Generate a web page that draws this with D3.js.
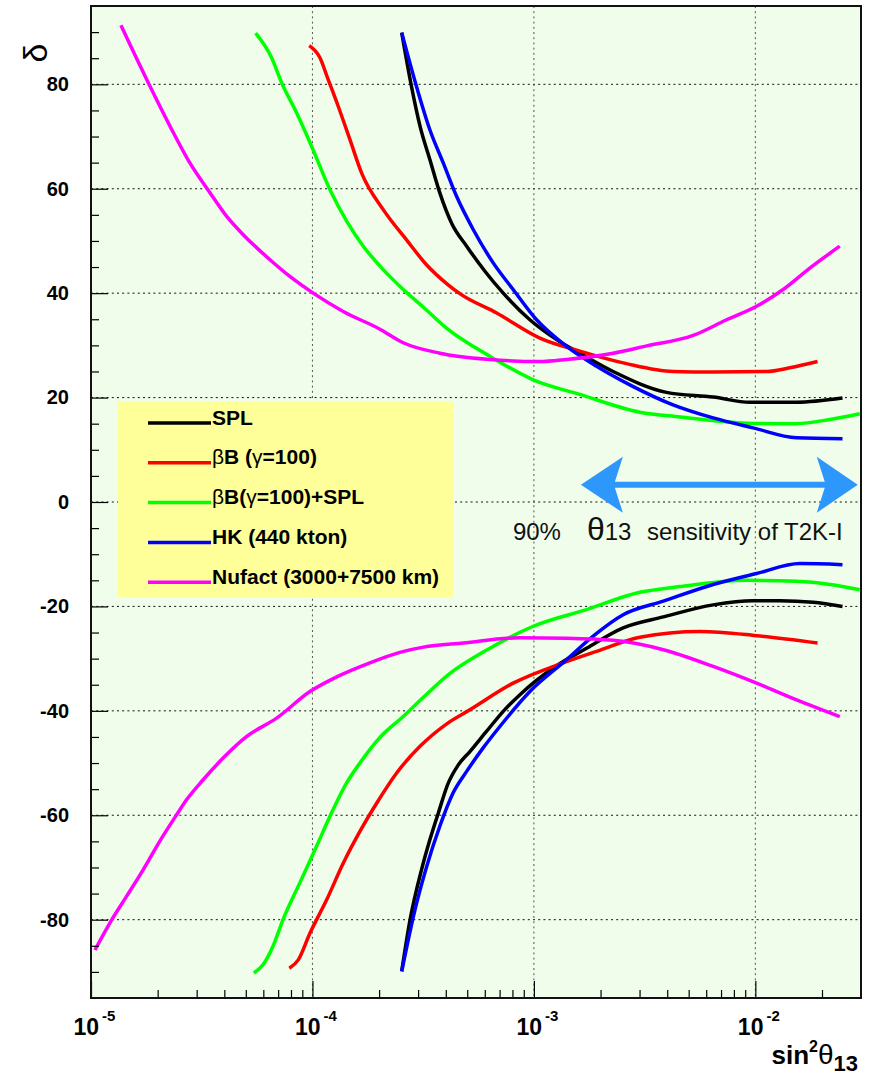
<!DOCTYPE html>
<html>
<head>
<meta charset="utf-8">
<title>delta vs sin2theta13</title>
<script src="https://cdnjs.cloudflare.com/ajax/libs/d3/7.8.5/d3.min.js"></script>
<style>
    body { margin: 0; background: #fff; }
    text { font-family: "Liberation Sans", Arial, sans-serif; }
    .curve { fill: none; stroke-width: 3.5; stroke-linejoin: round; stroke-linecap: butt; }
</style>
</head>
<body>
<svg id="chart" width="873" height="1076"></svg>
<script>
// each point: [sin^2(theta13), delta in degrees]
var splUpper = [[2.53e-4, 89.9], [2.80e-4, 79.6], [3.06e-4, 72.0], [3.39e-4, 65.6], [3.76e-4, 59.2],
    [4.25e-4, 53.4], [4.97e-4, 49.0], [6.01e-4, 44.2], [7.27e-4, 40.0], [9.59e-4, 34.9],
    [1.266e-3, 31.1], [1.613e-3, 28.5], [2.28e-3, 25.0], [3.97e-3, 21.0], [6.45e-3, 20.1],
    [9.45e-3, 19.1], [1.535e-2, 19.1], [2.475e-2, 19.9]];
var splLower = [[2.53e-4, -89.9], [2.76e-4, -80.0], [3.11e-4, -70.4], [3.39e-4, -64.7], [3.70e-4, -59.6],
    [4.10e-4, -53.9], [4.55e-4, -50.4], [5.14e-4, -47.8], [6.12e-4, -43.9], [7.27e-4, -40.1],
    [8.65e-4, -36.9], [1.222e-3, -31.8], [1.729e-3, -28.0], [2.53e-3, -24.1], [3.84e-3, -22.0],
    [6.45e-3, -19.7], [9.77e-3, -18.9], [1.29e-2, -18.9], [1.823e-2, -19.2], [2.475e-2, -20.0]];

var bbUpper = [[9.67e-5, 87.4], [1.081e-4, 85.1], [1.178e-4, 80.9], [1.307e-4, 75.8], [1.477e-4, 69.4],
    [1.668e-4, 63.0], [2.088e-4, 56.0], [2.66e-4, 50.2], [3.28e-4, 45.4], [4.10e-4, 41.6],
    [4.63e-4, 39.9], [6.79e-4, 36.2], [1.064e-3, 31.4], [1.613e-3, 28.9], [2.62e-3, 26.5],
    [4.25e-3, 25.0], [6.45e-3, 24.9], [1.124e-2, 25.0], [1.431e-2, 25.7], [1.909e-2, 26.9]];
var bbLower = [[7.86e-5, -89.3], [8.63e-5, -87.7], [9.74e-5, -82.6], [1.159e-4, -76.2], [1.377e-4, -69.2],
    [1.638e-4, -63.1], [1.949e-4, -57.7], [2.40e-4, -51.9], [3.06e-4, -46.8], [4.10e-4, -42.3],
    [5.14e-4, -39.8], [8.06e-4, -34.7], [1.356e-3, -30.8], [1.919e-3, -28.6], [3.01e-3, -25.9],
    [5.62e-3, -24.8], [1.013e-2, -25.6], [1.909e-2, -27.0]];

var bbSplUpper = [[5.54e-5, 89.8], [6.54e-5, 85.1], [7.26e-5, 80.3], [8.49e-5, 74.5], [9.92e-5, 68.1],
    [1.20e-4, 59.8], [1.427e-4, 53.8], [1.696e-4, 49.0], [2.088e-4, 44.5], [2.57e-4, 40.7],
    [3.17e-4, 37.3], [4.03e-4, 33.3], [6.33e-4, 27.9], [9.93e-4, 23.4], [1.613e-3, 20.6],
    [3.01e-3, 17.2], [4.56e-3, 16.3], [9.13e-3, 15.1], [1.535e-2, 15.0], [2.17e-2, 15.8], [2.96e-2, 16.9]];
var bbSplLower = [[5.44e-5, -90.2], [5.99e-5, -88.6], [6.65e-5, -85.0], [7.38e-5, -79.9], [8.78e-5, -72.9],
    [1.045e-4, -65.9], [1.20e-4, -60.2], [1.427e-4, -53.8], [1.638e-4, -50.0], [2.017e-4, -45.1],
    [2.57e-4, -41.1], [3.17e-4, -37.4], [4.10e-4, -33.1], [6.33e-4, -28.0], [9.93e-4, -23.8],
    [1.729e-3, -20.6], [3.01e-3, -17.3], [4.56e-3, -16.2], [9.13e-3, -15.0], [1.535e-2, -15.2],
    [2.17e-2, -15.8], [2.96e-2, -16.8]];

var hkUpper = [[2.53e-4, 89.9], [2.95e-4, 79.6], [3.39e-4, 71.3], [3.90e-4, 64.9], [4.48e-4, 58.5],
    [5.32e-4, 52.2], [6.55e-4, 45.8], [8.06e-4, 40.7], [1.028e-3, 34.9], [1.405e-3, 29.8],
    [1.919e-3, 26.0], [2.81e-3, 22.1], [4.25e-3, 18.6], [6.45e-3, 16.1], [9.77e-3, 14.2],
    [1.535e-2, 12.3], [2.475e-2, 12.1]];
var hkLower = [[2.53e-4, -89.9], [2.90e-4, -78.2], [3.28e-4, -69.8], [3.76e-4, -62.1], [4.32e-4, -55.7],
    [4.97e-4, -51.6], [5.90e-4, -47.1], [7.02e-4, -43.0], [9.59e-4, -36.3], [1.405e-3, -30.2],
    [1.852e-3, -25.7], [2.53e-3, -21.6], [3.84e-3, -19.0], [6.45e-3, -15.8], [1.013e-2, -13.7],
    [1.589e-2, -11.8], [2.475e-2, -12.0]];

var nufactUpper = [[1.365e-5, 91.3], [1.814e-5, 80.3], [2.273e-5, 72.0], [2.80e-5, 64.9], [3.45e-5, 59.2],
    [4.10e-5, 54.7], [4.87e-5, 51.2], [6.43e-5, 46.4], [7.91e-5, 43.2], [1.008e-4, 40.0],
    [1.377e-4, 36.5], [2.017e-4, 33.1], [2.57e-4, 30.5], [3.76e-4, 28.5], [6.33e-4, 27.3],
    [1.064e-3, 26.9], [1.405e-3, 27.3], [2.28e-3, 28.5], [3.23e-3, 29.9], [5.24e-3, 31.9],
    [7.41e-3, 34.9], [1.013e-2, 37.5], [1.335e-2, 40.7], [1.762e-2, 44.8], [2.406e-2, 49.0]];
var nufactLower = [[1.042e-5, -85.8], [1.218e-5, -80.6], [1.449e-5, -75.5], [1.722e-5, -70.4], [2.049e-5, -64.9],
    [2.437e-5, -59.9], [2.705e-5, -57.0], [3.21e-5, -53.2], [3.96e-5, -49.0], [5.05e-5, -44.9],
    [6.89e-5, -41.4], [9.74e-5, -36.3], [1.286e-4, -33.5], [1.818e-4, -30.8], [2.48e-4, -28.8],
    [3.17e-4, -27.8], [4.80e-4, -27.0], [8.65e-4, -26.0], [1.405e-3, -26.1], [2.28e-3, -26.5],
    [3.84e-3, -28.3], [6.45e-3, -31.5], [1.013e-2, -34.7], [1.535e-2, -37.9], [2.406e-2, -41.1]];

var legendLabels = ["SPL", "βB (γ=100)", "βB(γ=100)+SPL", "HK (440 kton)", "Nufact (3000+7500 km)"];
var colors = ["#000000", "#ff0000", "#00ff00", "#0000ff", "#ff00ff"];
var branches = [[splUpper, splLower], [bbUpper, bbLower], [bbSplUpper, bbSplLower], [hkUpper, hkLower], [nufactUpper, nufactLower]];

var yMajor = [-80, -60, -40, -20, 0, 20, 40, 60, 80];
var yMinor = d3.range(-90, 95, 5).filter(function(d) { return d % 20 !== 0; });
var xMajor = [1e-5, 1e-4, 1e-3, 1e-2];
var xExponents = ["-5", "-4", "-3", "-2"];
var xMinor = [2e-5, 3e-5, 4e-5, 5e-5, 6e-5, 7e-5, 8e-5, 9e-5,
    2e-4, 3e-4, 4e-4, 5e-4, 6e-4, 7e-4, 8e-4, 9e-4,
    2e-3, 3e-3, 4e-3, 5e-3, 6e-3, 7e-3, 8e-3, 9e-3, 2e-2];

// T2K-I sensitivity arrow
var arrowFrom = 1.63e-3, arrowTo = 2.9e-2, arrowDelta = 3.3;

var svg = d3.select("#chart");
var plotL = 91, plotR = 861, plotT = 6, plotB = 998;

var x = d3.scaleLog().domain([1e-5, 3e-2]).range([plotL, plotR]);
var y = d3.scaleLinear().domain([-95, 95]).range([plotB, plotT]);

svg.append("rect")
    .attr("x", plotL).attr("y", plotT)
    .attr("width", plotR - plotL).attr("height", plotB - plotT)
    .attr("fill", "#f0fdea");

// grid
svg.append("g").selectAll("line")
    .data(yMajor)
    .enter().append("line")
    .attr("x1", plotL).attr("x2", plotR)
    .attr("y1", function(d) { return y(d); })
    .attr("y2", function(d) { return y(d); })
    .attr("stroke", "#111").attr("stroke-width", 1)
    .attr("stroke-dasharray", "2,3.2");

svg.append("g").selectAll("line")
    .data(xMajor.slice(1))
    .enter().append("line")
    .attr("y1", plotT).attr("y2", plotB)
    .attr("x1", function(d) { return x(d); })
    .attr("x2", function(d) { return x(d); })
    .attr("stroke", "#555").attr("stroke-width", 1)
    .attr("stroke-dasharray", "2,3.2");

// legend box (sits over the grid)
var legend = svg.append("g");
legend.append("rect")
    .attr("x", 118).attr("y", 401)
    .attr("width", 335).attr("height", 196)
    .attr("fill", "#ffff99");

// curves
var line = d3.line()
    .x(function(d) { return x(d[0]); })
    .y(function(d) { return y(d[1]); })
    .curve(d3.curveMonotoneX);

branches.forEach(function(b, i) {
    b.forEach(function(pts) {
        svg.append("path")
            .attr("class", "curve")
            .attr("d", line(pts))
            .attr("stroke", colors[i]);
    });
});

// legend entries
legendLabels.forEach(function(label, i) {
    var ly = 423 + i * 39.8;
    legend.append("line")
        .attr("x1", 148).attr("x2", 211)
        .attr("y1", ly).attr("y2", ly)
        .attr("stroke", colors[i]).attr("stroke-width", 3.5);
    var t = legend.append("text")
        .attr("x", 212).attr("y", ly + 1.5)
        .attr("font-size", 21);
    label.split(/([βγ])/).filter(function(s) { return s; }).forEach(function(s) {
        t.append("tspan")
            .attr("font-weight", /[βγ]/.test(s) ? "normal" : "bold")
            .text(s);
    });
});

// axes
var yAxis = svg.append("g")
    .attr("transform", "translate(" + plotL + ",0)")
    .call(d3.axisLeft(y).tickValues(yMajor).tickSizeInner(-17).tickSizeOuter(0).tickPadding(22)
        .tickFormat(function(d) { return String(d); }));
yAxis.select(".domain").remove();
yAxis.selectAll("text")
    .attr("font-family", "Liberation Sans, Arial, sans-serif")
    .attr("font-size", 20).attr("font-weight", "bold").attr("fill", "#000");
yAxis.selectAll("line").attr("stroke", "#000").attr("stroke-width", 1.2);

var yMinorAxis = svg.append("g")
    .attr("transform", "translate(" + plotL + ",0)")
    .call(d3.axisLeft(y).tickValues(yMinor).tickSizeInner(-8).tickSizeOuter(0).tickFormat(""));
yMinorAxis.select(".domain").remove();
yMinorAxis.selectAll("line").attr("stroke", "#000").attr("stroke-width", 1.2);

var xAxis = svg.append("g")
    .attr("transform", "translate(0," + plotB + ")")
    .call(d3.axisBottom(x).tickValues(xMajor).tickSizeInner(-17).tickSizeOuter(0).tickFormat(""));
xAxis.select(".domain").remove();
xAxis.selectAll("line").attr("stroke", "#000").attr("stroke-width", 1.2);
xAxis.selectAll(".tick").each(function(d, i) {
    var t = d3.select(this).append("text")
        .attr("x", -18).attr("y", 37)
        .attr("text-anchor", "start")
        .attr("font-family", "Liberation Sans, Arial, sans-serif")
        .attr("font-weight", "bold").attr("fill", "#000");
    t.append("tspan").attr("font-size", 23).text("10");
    t.append("tspan").attr("font-size", 15).attr("dx", 3).attr("dy", -14).text(xExponents[i]);
});

var xMinorAxis = svg.append("g")
    .attr("transform", "translate(0," + plotB + ")")
    .call(d3.axisBottom(x).tickValues(xMinor).tickSizeInner(-8).tickSizeOuter(0).tickFormat(""));
xMinorAxis.select(".domain").remove();
xMinorAxis.selectAll("line").attr("stroke", "#000").attr("stroke-width", 1.2);

// frame
svg.append("rect")
    .attr("x", plotL).attr("y", plotT)
    .attr("width", plotR - plotL).attr("height", plotB - plotT)
    .attr("fill", "none").attr("stroke", "#111").attr("stroke-width", 2);

// arrow
var xl = x(arrowFrom), xr = x(arrowTo), ya = y(arrowDelta);
var arrow = d3.path();
arrow.moveTo(xl, ya);
arrow.lineTo(xl + 42, ya - 28);
arrow.lineTo(xl + 34, ya - 3);
arrow.lineTo(xr - 33, ya - 3);
arrow.lineTo(xr - 41, ya - 28);
arrow.lineTo(xr, ya);
arrow.lineTo(xr - 41, ya + 28);
arrow.lineTo(xr - 33, ya + 3);
arrow.lineTo(xl + 34, ya + 3);
arrow.lineTo(xl + 42, ya + 28);
arrow.closePath();
svg.append("path").attr("d", arrow.toString()).attr("fill", "#2e97fb");

var note = svg.append("text")
    .attr("x", xl - 68).attr("y", ya + 55)
    .attr("text-anchor", "start").attr("font-size", 24).attr("fill", "#111");
note.append("tspan").text("90%");
note.append("tspan").attr("font-size", 32).attr("dx", 26).text("θ");
note.append("tspan").text("13");
note.append("tspan").attr("dx", 9).text(" sensitivity");
note.append("tspan").text(" of");
note.append("tspan").text(" T2K-I");

// axis titles
svg.append("text")
    .attr("transform", "translate(47,53) rotate(-90)")
    .attr("text-anchor", "middle")
    .attr("font-size", 34)
    .text("δ");

var xt = svg.append("text")
    .attr("x", 858).attr("y", 1064)
    .attr("text-anchor", "end").attr("fill", "#000");
xt.append("tspan").attr("font-size", 26).attr("font-weight", "bold").text("sin");
xt.append("tspan").attr("font-size", 16).attr("font-weight", "bold").attr("dy", -12).text("2");
xt.append("tspan").attr("font-size", 28).attr("dy", 12).text("θ");
xt.append("tspan").attr("font-size", 22).attr("font-weight", "bold").attr("dy", 7).text("13");
</script>
</body>
</html>
